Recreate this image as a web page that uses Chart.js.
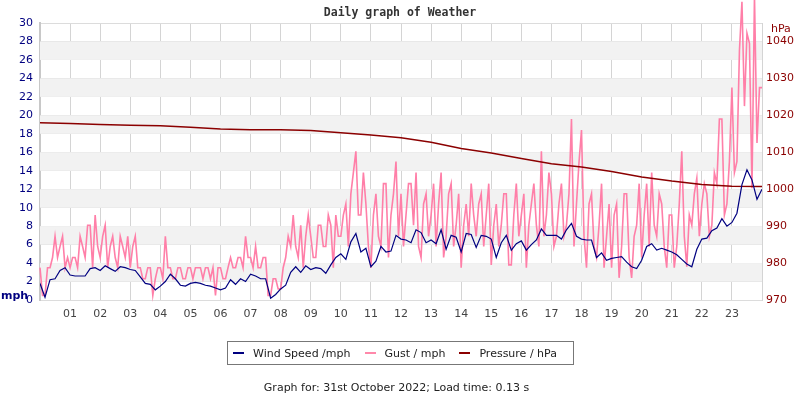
<!DOCTYPE html>
<html>
<head>
<meta charset="utf-8">
<title>Daily graph of Weather</title>
<script src="https://cdn.jsdelivr.net/npm/chart.js@4/dist/chart.umd.min.js"></script>
<style>
    body { margin: 0; background: #fff; }
    .wrap { position: relative; width: 800px; height: 400px; font-family: "DejaVu Sans", sans-serif; }
    .wrap canvas { position: absolute; left: 0; top: 0; }
    .graph-title { position: absolute; top: 5px; left: 0; width: 800px; text-align: center; font: bold 11.5px "DejaVu Sans Mono", monospace; color: #333; }
    .unit-left { position: absolute; left: 1px; top: 289px; font: bold 11px "DejaVu Sans", sans-serif; color: #000080; }
    .unit-right { position: absolute; left: 771px; top: 22px; font: 11px "DejaVu Sans", sans-serif; color: #8b0000; }
    .legend { position: absolute; left: 227px; top: 341px; width: 345px; height: 22px; border: 1px solid #777; display: flex; align-items: center; font-size: 11px; color: #222; box-sizing: content-box; }
    .legend-item { display: flex; align-items: center; margin-left: 5px; margin-right: 9px; }
    .legend-swatch { width: 11px; height: 2px; margin-right: 9px; }
    .footer { position: absolute; top: 381px; left: 0; width: 793px; text-align: center; font-size: 11px; color: #222; }
</style>
</head>
<body>
<div class="wrap">
    <canvas id="chart" width="800" height="400"></canvas>
    <div class="graph-title">Daily graph of Weather</div>
    <div class="unit-left">mph</div>
    <div class="unit-right">hPa</div>
    <div class="legend">
        <div class="legend-item"><span class="legend-swatch" style="background:#000080"></span>Wind Speed /mph</div>
        <div class="legend-item"><span class="legend-swatch" style="background:#ff88aa"></span>Gust / mph</div>
        <div class="legend-item"><span class="legend-swatch" style="background:#8b0000"></span>Pressure / hPa</div>
    </div>
    <div class="footer">Graph for: 31st October 2022; Load time: 0.13 s</div>
</div>
<script>
// wind speed every 10 minutes from 00:00
const windSpeed = [
    1.8, 0.3, 2.2, 2.3, 3.2, 3.5, 2.7, 2.6, 2.6, 2.6, 3.4, 3.5,
    3.2, 3.7, 3.4, 3.1, 3.6, 3.5, 3.3, 3.2, 2.5, 1.8, 1.7, 1.1,
    1.5, 2.0, 2.8, 2.3, 1.6, 1.5, 1.8, 1.9, 1.8, 1.6, 1.5, 1.3,
    1.1, 1.3, 2.2, 1.7, 2.3, 2.0, 2.8, 2.6, 2.3, 2.3, 0.2, 0.6,
    1.2, 1.6, 3.0, 3.6, 3.0, 3.7, 3.3, 3.5, 3.4, 2.9, 3.8, 4.6,
    5.0, 4.4, 6.3, 7.2, 5.2, 5.6, 3.6, 4.2, 5.8, 5.2, 5.3, 7.0,
    6.6, 6.5, 6.2, 7.6, 7.3, 6.2, 6.5, 6.1, 7.6, 5.5, 7.0, 6.8,
    5.2, 7.2, 7.1, 5.7, 7.0, 6.9, 6.6, 4.6, 6.2, 7.0, 5.4, 6.1,
    6.4, 5.4, 6.0, 6.5, 7.7, 7.0, 7.0, 7.0, 6.6, 7.6, 8.3, 6.9,
    6.6, 6.5, 6.5, 4.6, 5.1, 4.3, 4.5, 4.6, 4.7, 4.1, 3.6, 3.4,
    4.3, 5.8, 6.1, 5.4, 5.6, 5.4, 5.2, 4.9, 4.4, 3.9, 3.6, 5.5,
    6.6, 6.7, 7.5, 7.8, 8.8, 8.0, 8.4, 9.4, 12.5, 14.1, 13.0, 10.9,
    12.0
];

// gust every 5 minutes from 00:00, one row per hour
const gust = [
    3.5, 0.5, 0.5, 3.5, 3.5, 4.6, 6.9, 4.6, 5.8, 6.9, 3.5, 4.6,
    3.5, 4.6, 4.6, 3.5, 6.9, 5.8, 4.6, 8.1, 8.1, 3.5, 9.2, 5.8,
    4.6, 6.9, 8.1, 3.5, 5.8, 6.9, 4.6, 3.5, 6.9, 5.8, 4.6, 6.9,
    3.5, 5.8, 6.9, 3.5, 3.5, 2.3, 2.3, 3.5, 3.5, 0.5, 2.3, 3.5,
    3.5, 2.3, 6.9, 3.5, 3.5, 2.3, 2.3, 3.5, 3.5, 2.3, 2.3, 3.5,
    3.5, 2.3, 3.5, 3.5, 3.5, 2.3, 3.5, 3.5, 2.3, 3.5, 0.5, 3.5,
    3.5, 2.3, 2.3, 3.5, 4.6, 3.5, 3.5, 4.6, 4.6, 3.5, 6.9, 4.6,
    4.6, 3.5, 5.8, 3.5, 3.5, 4.6, 4.6, 0.5, 0.5, 2.3, 2.3, 1.2,
    1.2, 3.5, 4.6, 6.9, 5.8, 9.2, 5.8, 4.6, 8.1, 3.5, 6.9, 9.2,
    6.9, 4.6, 4.6, 8.1, 8.1, 5.8, 5.8, 9.2, 8.1, 3.5, 9.2, 6.9,
    6.9, 9.2, 10.4, 5.8, 11.5, 13.8, 16.1, 9.2, 9.2, 13.8, 10.4, 5.8,
    3.5, 9.2, 11.5, 6.9, 5.8, 12.6, 12.6, 4.6, 9.2, 11.5, 15.0, 6.9,
    11.5, 5.8, 9.2, 12.6, 12.6, 8.1, 13.8, 5.8, 4.6, 10.4, 11.5, 6.9,
    9.2, 12.6, 5.8, 10.4, 13.8, 4.6, 6.9, 11.5, 12.6, 5.8, 8.1, 11.5,
    3.5, 8.1, 10.4, 6.9, 12.6, 9.2, 6.9, 10.4, 11.5, 5.8, 9.2, 12.6,
    3.8, 8.1, 10.4, 5.8, 8.1, 11.5, 11.5, 3.8, 3.8, 9.2, 12.6, 6.9,
    9.2, 11.5, 3.5, 8.1, 10.4, 12.6, 8.1, 5.8, 16.1, 6.9, 9.2, 13.8,
    11.5, 5.8, 6.9, 10.4, 12.6, 6.9, 8.1, 11.5, 19.6, 5.8, 10.4, 14.9,
    18.4, 6.9, 3.5, 10.4, 11.5, 5.8, 4.6, 8.1, 12.6, 3.5, 6.9, 10.4,
    3.5, 9.2, 10.4, 2.4, 5.8, 11.5, 11.5, 4.6, 2.4, 6.9, 8.1, 12.6,
    4.6, 9.2, 12.6, 5.8, 13.8, 8.1, 6.9, 11.5, 10.4, 5.8, 3.5, 9.2,
    9.2, 3.5, 5.8, 10.4, 16.1, 6.9, 3.6, 9.2, 8.1, 11.5, 13.2, 6.9,
    10.4, 12.6, 11.5, 6.9, 8.1, 13.8, 12.6, 19.6, 19.6, 9.2, 10.4, 15.0,
    23.0, 13.8, 15.0, 27.0, 32.3, 21.0, 28.9, 27.8, 12.1, 33.0, 17.0, 23.0,
    23.0
];

// hourly pressure, 00:00 to 24:00
const pressure = [
    1018.0, 1017.8, 1017.5, 1017.3, 1017.2, 1016.8, 1016.3, 1016.1, 1016.1,
    1015.9, 1015.3, 1014.7, 1013.9, 1012.7, 1011.0, 1009.8, 1008.3, 1006.9,
    1006.0, 1004.8, 1003.3, 1002.2, 1001.3, 1000.8, 1000.7
];

const hourLabels = ["01", "02", "03", "04", "05", "06", "07", "08", "09", "10", "11", "12",
    "13", "14", "15", "16", "17", "18", "19", "20", "21", "22", "23"];

const windTicks = [0, 2, 4, 6, 8, 10, 12, 14, 16, 18, 20, 22, 24, 26, 28, 30];
const pressureTicks = [970, 980, 990, 1000, 1010, 1020, 1030, 1040];

const toPoints = (values, perHour) => values.map((v, i) => ({ x: i / perHour, y: v }));

// alternate grey bands behind the plot
const bands = {
    id: "bands",
    beforeDatasetsDraw(chart) {
        const { ctx, chartArea, scales } = chart;
        ctx.save();
        ctx.fillStyle = "#f2f2f2";
        for (let i = 1; i < windTicks.length - 1; i += 2) {
            const top = scales.y.getPixelForValue(windTicks[i + 1]);
            const bottom = scales.y.getPixelForValue(windTicks[i]);
            ctx.fillRect(chartArea.left, top, chartArea.right - chartArea.left, bottom - top);
        }
        ctx.restore();
    }
};

new Chart(document.getElementById("chart"), {
    type: "line",
    data: {
        datasets: [
            {
                label: "Wind Speed /mph",
                data: toPoints(windSpeed, 6),
                borderColor: "#000080",
                borderWidth: 1.2,
                pointRadius: 0,
                yAxisID: "y",
                order: 0
            },
            {
                label: "Pressure / hPa",
                data: toPoints(pressure, 1),
                borderColor: "#8b0000",
                borderWidth: 1.5,
                pointRadius: 0,
                yAxisID: "y1",
                order: 1
            },
            {
                label: "Gust / mph",
                data: toPoints(gust, 12),
                borderColor: "#ff7fa8",
                borderWidth: 1.6,
                pointRadius: 0,
                yAxisID: "y",
                clip: false,
                order: 2
            }
        ]
    },
    options: {
        responsive: false,
        animation: false,
        layout: {
            padding: { top: 23, bottom: 75, left: 0, right: 0 }
        },
        plugins: {
            legend: { display: false },
            tooltip: { enabled: false },
            title: { display: false }
        },
        scales: {
            x: {
                type: "linear",
                min: 0,
                max: 24,
                afterBuildTicks: scale => {
                    scale.ticks = Array.from({ length: 25 }, (_, h) => ({ value: h }));
                },
                afterFit: scale => { scale.height = 25; },
                ticks: {
                    autoSkip: false,
                    maxRotation: 0,
                    padding: 8,
                    color: "#444",
                    font: { family: "DejaVu Sans", size: 11 },
                    callback: value => hourLabels[value - 1] || ""
                },
                grid: { color: "#d4d4d4", drawTicks: false },
                border: { display: false }
            },
            y: {
                position: "left",
                min: 0,
                max: 30,
                afterBuildTicks: scale => {
                    scale.ticks = windTicks.map(v => ({ value: v }));
                },
                afterFit: scale => { scale.width = 40; },
                ticks: {
                    padding: 7,
                    color: "#000080",
                    font: { family: "DejaVu Sans", size: 11 },
                    callback: value => String(value)
                },
                grid: { color: "#dcdcdc", drawTicks: false },
                border: { color: "#c8c8c8", width: 2 }
            },
            y1: {
                position: "right",
                min: 970,
                max: 1045,
                afterBuildTicks: scale => {
                    scale.ticks = pressureTicks.map(v => ({ value: v }));
                },
                afterFit: scale => { scale.width = 38; },
                ticks: {
                    padding: 4,
                    color: "#8b0000",
                    font: { family: "DejaVu Sans", size: 11 },
                    callback: value => String(value)
                },
                grid: { display: false, drawTicks: false },
                border: { color: "#d4d4d4", width: 1 }
            }
        }
    },
    plugins: [bands]
});
</script>
</body>
</html>
